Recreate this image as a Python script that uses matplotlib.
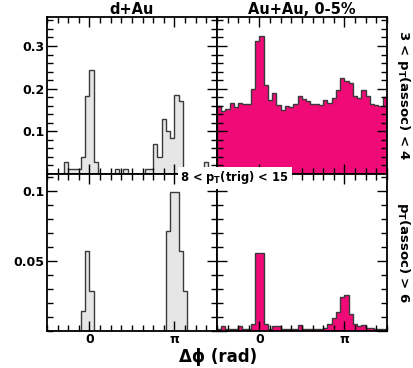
import matplotlib
matplotlib.use("Agg")
import matplotlib.pyplot as plt
import numpy as np
from matplotlib.patches import Rectangle
from matplotlib.ticker import FixedLocator, MultipleLocator

plt.rcParams["font.family"] = "DejaVu Sans"
plt.rcParams["font.weight"] = "bold"
plt.rcParams["mathtext.fontset"] = "dejavusans"

# 40 bins in delta-phi, from -pi/2 to 3pi/2
n_bins = 40
phi_lo, phi_hi = -np.pi / 2, 3 * np.pi / 2

# d+Au, 3 < pT(assoc) < 4
dau_mid = [0, 0, 0, 0, 0.027, 0.0126, 0.0126, 0.0126, 0.040, 0.184,
           0.244, 0.027, 0, 0, 0, 0, 0.0126, 0, 0.0126, 0,
           0, 0, 0, 0.0126, 0.0126, 0.071, 0.041, 0.128, 0.100, 0.084,
           0.185, 0.171, 0.0126, 0, 0, 0, 0, 0.027, 0, 0]

# Au+Au 0-5%, 3 < pT(assoc) < 4
auau_mid = [0.1585, 0.1475, 0.153, 0.166, 0.157, 0.166, 0.163, 0.163, 0.200, 0.311,
            0.323, 0.208, 0.173, 0.190, 0.161, 0.149, 0.1585, 0.157, 0.165, 0.184,
            0.175, 0.170, 0.165, 0.165, 0.1625, 0.1726, 0.167, 0.179, 0.198, 0.225,
            0.217, 0.214, 0.183, 0.179, 0.198, 0.184, 0.163, 0.161, 0.159, 0.180]

# d+Au, pT(assoc) > 6
dau_high = [0, 0, 0, 0, 0, 0, 0, 0, 0.0141, 0.0568,
            0.0282, 0, 0, 0, 0, 0, 0, 0, 0, 0,
            0, 0, 0, 0, 0, 0, 0, 0, 0.071, 0.099,
            0.099, 0.0568, 0.0282, 0, 0, 0, 0, 0, 0, 0]

# Au+Au 0-5%, pT(assoc) > 6
auau_high = [0.001, 0.003, 0.0012, 0.0012, 0.001, 0.003, 0.001, 0.001, 0.005, 0.0558,
             0.0554, 0.0044, 0.0013, 0.003, 0.003, 0.0013, 0.0013, 0.0013, 0.0013, 0.0037,
             0.0013, 0.0013, 0.0013, 0.0013, 0.0013, 0.002, 0.005, 0.0092, 0.0134, 0.0241,
             0.0254, 0.0116, 0.0044, 0.003, 0.0037, 0.0015, 0.0015, 0.0013, 0.0013, 0.001]

col_titles = ["d+Au", "Au+Au, 0-5%"]
row_labels = [r"3 < p$_{\mathbf{T}}$(assoc) < 4", r"p$_{\mathbf{T}}$(assoc) > 6"]
trig_label = r"8 < p$_{\mathbf{T}}$(trig) < 15"

edges = np.linspace(phi_lo, phi_hi, n_bins + 1)

W, H = 414, 368
fig = plt.figure(figsize=(W / 100, H / 100), dpi=100)

x0, xm, x1 = 47 / W, 217 / W, 387 / W
y_top, y_mid, y_bot = 1 - 17 / H, 1 - 174 / H, 1 - 330.5 / H

panels = [
    (dau_mid, "#e6e6e6", (x0, y_mid, xm - x0, y_top - y_mid), 0.368, 0.1, 0.02, ["0.1", "0.2", "0.3"]),
    (auau_mid, "#f00a78", (xm, y_mid, x1 - xm, y_top - y_mid), 0.368, 0.1, 0.02, None),
    (dau_high, "#e6e6e6", (x0, y_bot, xm - x0, y_mid - y_bot), 0.112, 0.05, 0.01, ["0.05", "0.1"]),
    (auau_high, "#f00a78", (xm, y_bot, x1 - xm, y_mid - y_bot), 0.112, 0.05, 0.01, None),
]

for i, (vals, fc, rect, ymax, major, minor, ylabels) in enumerate(panels):
    ax = fig.add_axes(rect)
    ax.stairs(vals, edges, fill=True, color=fc, baseline=0)
    ax.stairs(vals, edges, color="#3a3a3a", linewidth=1.0, baseline=0)
    ax.set_xlim(phi_lo, phi_hi)
    ax.set_ylim(0, ymax)

    ax.xaxis.set_major_locator(FixedLocator([0, np.pi]))
    ax.xaxis.set_minor_locator(MultipleLocator(np.pi / 8))
    ax.yaxis.set_major_locator(MultipleLocator(major))
    ax.yaxis.set_minor_locator(MultipleLocator(minor))

    if i >= 2:
        ax.set_xticklabels(["0", "π"])
    else:
        ax.set_xticklabels([])
    if ylabels is not None:
        ticks = [major * (j + 1) for j in range(len(ylabels))]
        ax.set_yticks(ticks)
        ax.set_yticklabels(ylabels)
    else:
        ax.set_yticklabels([])

    ax.tick_params(which="both", direction="in", top=True, right=True,
                   labelsize=9, width=1.0, pad=2)
    ax.tick_params(which="major", length=7)
    ax.tick_params(which="minor", length=4)
    for sp in ax.spines.values():
        sp.set_linewidth(1.3)

# column titles
fig.text((x0 + xm) / 2, 1 - 9.5 / H, col_titles[0], ha="center", va="center",
         fontsize=10.5, fontweight="bold")
fig.text((xm + x1) / 2, 1 - 9.5 / H, col_titles[1], ha="center", va="center",
         fontsize=10.5, fontweight="bold")

# row labels on the right
fig.text(404 / W, (y_top + y_mid) / 2, row_labels[0], rotation=270, ha="center",
         va="center", fontsize=9.5, fontweight="bold")
fig.text(404 / W, (y_mid + y_bot) / 2, row_labels[1], rotation=270, ha="center",
         va="center", fontsize=9.5, fontweight="bold")

# trigger label in a white box over the middle axis
fig.patches.append(Rectangle((178 / W, 1 - 189 / H), 114 / W, 22 / H,
                             transform=fig.transFigure, facecolor="white",
                             edgecolor="none", zorder=5))
fig.text(234 / W, 1 - 178 / H, trig_label, ha="center", va="center",
         fontsize=8.3, fontweight="bold", zorder=6)

fig.text(218 / W, 1 - 357 / H, "Δϕ (rad)", ha="center", va="center",
         fontsize=12, fontweight="bold")

fig.savefig("out.png", dpi=100)
